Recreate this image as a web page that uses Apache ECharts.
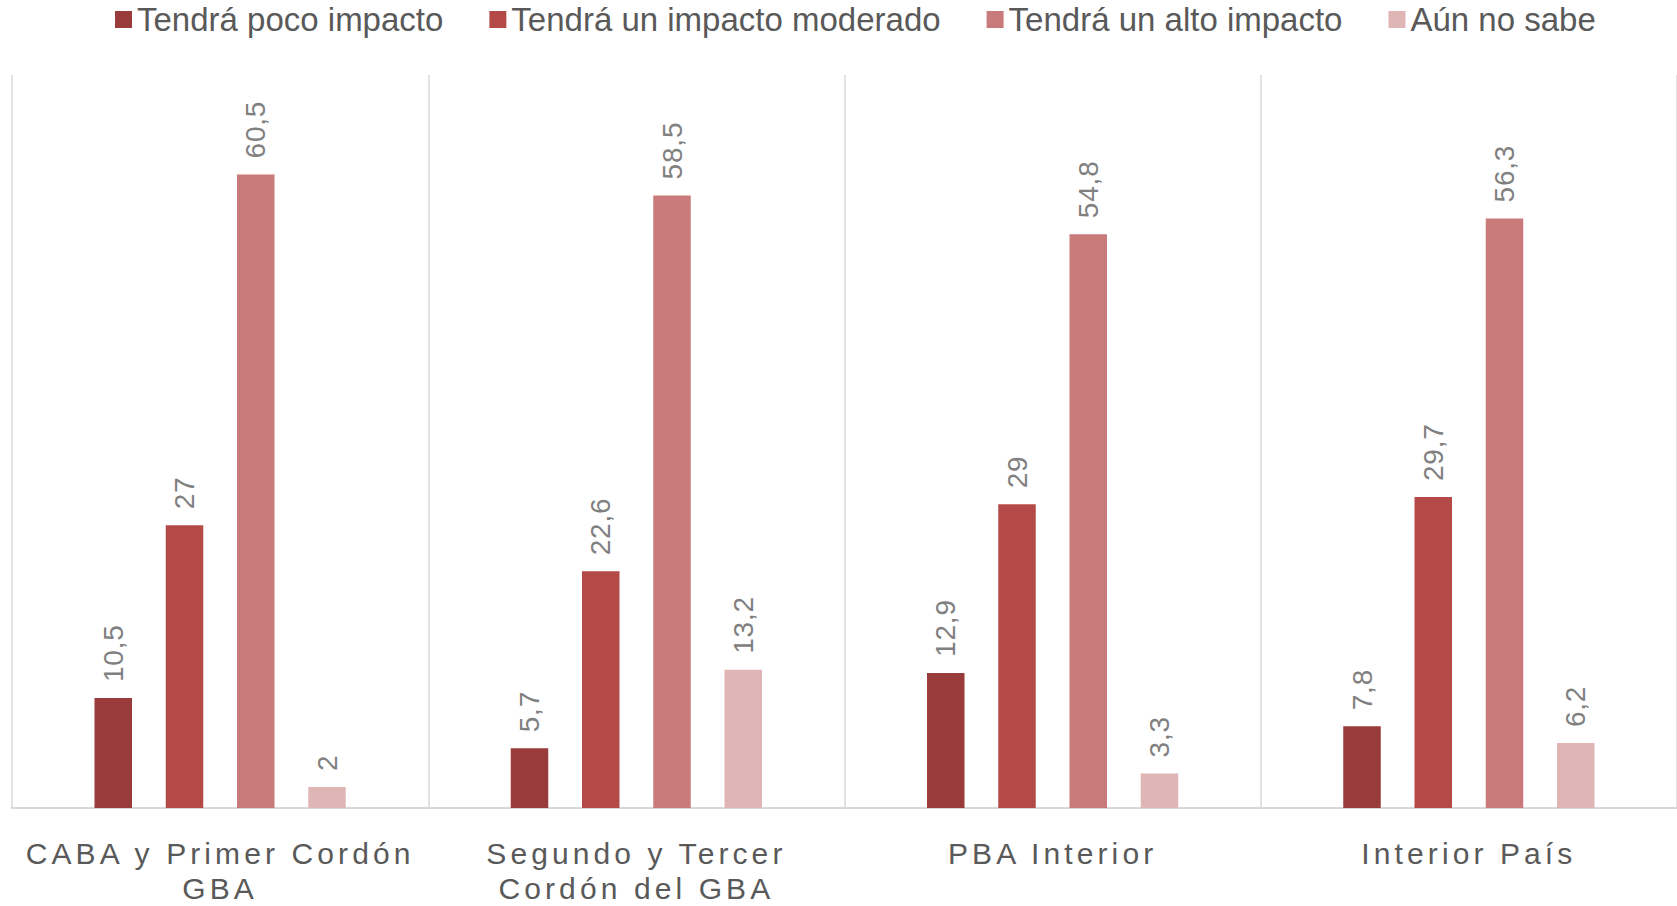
<!DOCTYPE html>
<html>
<head>
<meta charset="utf-8">
<script src="https://cdn.jsdelivr.net/npm/echarts@6/dist/echarts.min.js"></script>
<style>
  html, body { margin: 0; padding: 0; background: #ffffff; }
  #chart { width: 1677px; height: 906px; }
</style>
</head>
<body>
<div id="chart"></div>
<script>
const categories = ['CABA y Primer Cordón\nGBA', 'Segundo y Tercer\nCordón del GBA', 'PBA Interior', 'Interior País'];
const seriesNames = ['Tendrá poco impacto', 'Tendrá un impacto moderado', 'Tendrá un alto impacto', 'Aún no sabe'];
const pocoImpacto = [10.5, 5.7, 12.9, 7.8];
const impactoModerado = [27, 22.6, 29, 29.7];
const altoImpacto = [60.5, 58.5, 54.8, 56.3];
const noSabe = [2, 13.2, 3.3, 6.2];
const colors = ['#9a3b3b', '#b34a48', '#c97b7b', '#e0b5b5'];

const seriesData = [pocoImpacto, impactoModerado, altoImpacto, noSabe];
const FONT = '"Liberation Sans", Arial, Helvetica, sans-serif';

const chart = echarts.init(document.getElementById('chart'), null, { renderer: 'svg' });

const option = {
  animation: false,
  backgroundColor: '#ffffff',
  legend: {
    top: -2,
    left: 110,
    itemWidth: 17,
    itemHeight: 17,
    itemGap: 46,
    icon: 'rect',
    textStyle: { fontFamily: FONT, fontSize: 33, color: '#595959' },
    data: seriesNames
  },
  grid: { left: 12, top: 75, bottom: 95, width: 1668, containLabel: false },
  xAxis: {
    type: 'category',
    data: categories,
    axisLine: { show: true, lineStyle: { color: '#d9d9d9', width: 2 } },
    axisTick: { show: false },
    splitLine: { show: true, lineStyle: { color: '#d9d9d9', width: 1.5 } },
    axisLabel: {
      fontFamily: FONT, fontSize: 30, color: '#595959',
      margin: 28, lineHeight: 35, interval: 0
    }
  },
  yAxis: {
    type: 'value', min: 0, max: 70, show: false,
    splitLine: { show: false }
  },
  series: seriesNames.map((name, i) => ({
    name: name,
    type: 'bar',
    data: seriesData[i],
    barWidth: 37.5,
    barGap: '90%',
    itemStyle: { color: colors[i] },
    label: {
      show: true,
      position: 'top',
      rotate: 90,
      align: 'left',
      verticalAlign: 'middle',
      distance: 16,
      fontFamily: FONT,
      fontSize: 28,
      color: '#808080',
      formatter: p => String(p.value).replace('.', ',')
    }
  }))
};
chart.setOption(option);

const axisLines = new Set();
categories.forEach(c => c.split('\n').forEach(l => axisLines.add(l)));
function applySpacing() {
  const texts = document.querySelectorAll('#chart text');
  texts.forEach(t => {
    const s = (t.textContent || '').trim();
    if (axisLines.has(s)) {
      t.style.letterSpacing = '4.1px';
    } else if (/^[0-9]+(,[0-9]+)?$/.test(s)) {
      t.style.letterSpacing = '0.8px';
    }
  });
}
chart.on('finished', applySpacing);
applySpacing();
</script>
</body>
</html>
